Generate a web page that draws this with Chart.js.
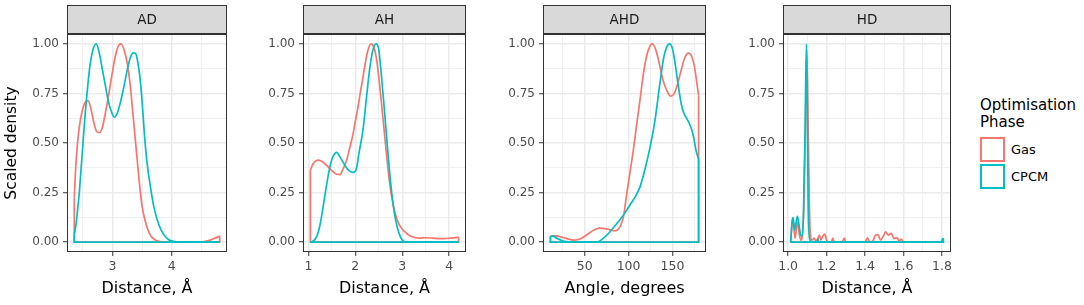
<!DOCTYPE html>
<html>
<head>
<meta charset="utf-8">
<script src="https://cdn.jsdelivr.net/npm/chart.js@4.4.1/dist/chart.umd.min.js"></script>
<style>
html,body{margin:0;padding:0;background:#fff;width:1084px;height:305px;overflow:hidden;font-family:"DejaVu Sans",sans-serif;}
canvas{position:absolute;top:0;}
#legTitle{position:absolute;left:980px;top:97px;font-size:15px;line-height:17px;color:#000;}
.key{position:absolute;left:980px;width:21px;height:21px;border:2px solid;box-sizing:content-box;background:#fff;}
.klab{position:absolute;left:1011px;font-size:13px;line-height:16px;color:#000;}
</style>
</head>
<body>
<canvas id="c0"></canvas>
<canvas id="c1"></canvas>
<canvas id="c2"></canvas>
<canvas id="c3"></canvas>
<div id="legTitle">Optimisation<br>Phase</div>
<div class="key" id="k0" style="top:137px;"></div>
<div class="key" id="k1" style="top:164px;"></div>
<div class="klab" id="l0" style="top:142px;"></div>
<div class="klab" id="l1" style="top:169px;"></div>
<script>
// ---------- data ----------
const panelTitles = ['AD', 'AH', 'AHD', 'HD'];
const xTitles = ['Distance, Å', 'Distance, Å', 'Angle, degrees', 'Distance, Å'];
const yTitle = 'Scaled density';
const seriesNames = ['Gas', 'CPCM'];
const legendTitle = ['Optimisation', 'Phase'];

const adGasX = [2.355, 2.38, 2.41, 2.44, 2.48, 2.53, 2.586, 2.63, 2.68, 2.73, 2.78, 2.83, 2.88, 2.94, 3.0, 3.05, 3.1, 3.146, 3.2, 3.25, 3.3, 3.35, 3.4, 3.45, 3.5, 3.55, 3.583, 3.65, 3.7, 3.8, 3.9, 4.2, 4.45, 4.55, 4.65, 4.73, 4.81];
const adGasY = [0.225, 0.38, 0.5, 0.58, 0.65, 0.70, 0.714, 0.68, 0.61, 0.56, 0.552, 0.58, 0.65, 0.75, 0.86, 0.94, 0.99, 1.0, 0.965, 0.9, 0.79, 0.63, 0.47, 0.31, 0.18, 0.11, 0.074, 0.03, 0.015, 0.002, 0, 0, 0, 0.003, 0.01, 0.02, 0.03];
const adCpcmX = [2.355, 2.38, 2.41, 2.44, 2.47, 2.5, 2.54, 2.58, 2.62, 2.67, 2.726, 2.78, 2.83, 2.88, 2.93, 2.98, 3.03, 3.08, 3.13, 3.19, 3.25, 3.3, 3.35, 3.387, 3.42, 3.46, 3.5, 3.54, 3.58, 3.64, 3.7, 3.78, 3.86, 3.95, 4.05, 4.15, 4.81];
const adCpcmY = [0.04, 0.08, 0.16, 0.25, 0.37, 0.49, 0.65, 0.78, 0.89, 0.97, 1.0, 0.95, 0.87, 0.79, 0.71, 0.66, 0.63, 0.65, 0.7, 0.78, 0.87, 0.93, 0.955, 0.953, 0.92, 0.84, 0.71, 0.54, 0.41, 0.28, 0.175, 0.09, 0.04, 0.012, 0.003, 0, 0];

const ahGasX = [1.043, 1.1, 1.16, 1.218, 1.3, 1.4, 1.5, 1.6, 1.673, 1.74, 1.811, 1.88, 1.951, 2.0, 2.056, 2.11, 2.161, 2.21, 2.266, 2.336, 2.37, 2.406, 2.44, 2.476, 2.51, 2.545, 2.58, 2.615, 2.65, 2.685, 2.72, 2.755, 2.79, 2.825, 2.88, 2.93, 3.0, 3.07, 3.14, 3.21, 3.35, 3.5, 3.65, 3.8, 3.95, 4.1, 4.2];
const ahGasY = [0.364, 0.395, 0.41, 0.414, 0.405, 0.385, 0.36, 0.342, 0.34, 0.37, 0.41, 0.475, 0.545, 0.61, 0.68, 0.76, 0.83, 0.9, 0.966, 1.0, 0.995, 0.975, 0.94, 0.882, 0.81, 0.73, 0.645, 0.562, 0.475, 0.394, 0.32, 0.259, 0.21, 0.167, 0.12, 0.091, 0.065, 0.049, 0.035, 0.027, 0.02, 0.022, 0.02, 0.017, 0.018, 0.021, 0.025];
const ahCpcmX = [1.043, 1.113, 1.17, 1.218, 1.27, 1.323, 1.375, 1.428, 1.48, 1.532, 1.602, 1.67, 1.742, 1.81, 1.88, 1.95, 2.0, 2.04, 2.074, 2.161, 2.231, 2.301, 2.371, 2.441, 2.497, 2.553, 2.615, 2.685, 2.755, 2.825, 2.895, 2.965, 3.035, 3.1, 4.2];
const ahCpcmY = [0, 0.007, 0.025, 0.057, 0.115, 0.192, 0.27, 0.343, 0.4, 0.436, 0.453, 0.43, 0.402, 0.375, 0.358, 0.352, 0.357, 0.39, 0.444, 0.562, 0.714, 0.865, 0.966, 1.0, 0.975, 0.848, 0.68, 0.478, 0.293, 0.158, 0.074, 0.024, 0.003, 0, 0];

const ahdGasX = [11, 15, 20, 28, 38, 46, 55, 61, 67, 73, 79, 84, 86.9, 90.6, 94.4, 98.1, 101.9, 105.6, 109.4, 113.1, 116.9, 120.6, 124.4, 127, 131, 135, 139, 143, 148, 152, 156, 160, 164, 168, 172, 175, 177.5, 179.7];
const ahdGasY = [0.029, 0.033, 0.03, 0.02, 0.01, 0.018, 0.045, 0.062, 0.07, 0.068, 0.062, 0.057, 0.06, 0.08, 0.133, 0.25, 0.36, 0.47, 0.6, 0.72, 0.85, 0.94, 0.99, 1.0, 0.97, 0.9, 0.82, 0.77, 0.736, 0.75, 0.8, 0.87, 0.93, 0.953, 0.935, 0.885, 0.81, 0.74];
const ahdCpcmX = [11, 14, 18, 24, 30, 36, 62, 66, 70, 74, 79.4, 85, 90.6, 96.3, 101.9, 107.5, 113.1, 118.8, 124.4, 130, 135.6, 140.1, 143.5, 146.9, 150, 152.5, 156.3, 160, 163, 166, 169.4, 172, 174, 176.9, 179.7];
const ahdCpcmY = [0.028, 0.03, 0.02, 0.008, 0.002, 0, 0, 0.003, 0.015, 0.03, 0.055, 0.085, 0.115, 0.15, 0.19, 0.228, 0.28, 0.37, 0.478, 0.613, 0.798, 0.933, 0.985, 1.0, 0.975, 0.916, 0.798, 0.697, 0.65, 0.625, 0.596, 0.565, 0.53, 0.461, 0.419];

const hdGasX = [1.013, 1.018, 1.024, 1.03, 1.036, 1.042, 1.05, 1.058, 1.066, 1.074, 1.082, 1.09, 1.097, 1.102, 1.106, 1.112, 1.118, 1.125, 1.135, 1.145, 1.155, 1.163, 1.17, 1.18, 1.19, 1.2, 1.21, 1.225, 1.232, 1.24, 1.28, 1.292, 1.3, 1.4, 1.412, 1.425, 1.44, 1.455, 1.467, 1.48, 1.495, 1.507, 1.52, 1.536, 1.55, 1.567, 1.578, 1.589, 1.6, 1.807];
const hdGasY = [0, 0.06, 0.12, 0.07, 0.02, 0.06, 0.1, 0.04, 0.01, 0.03, 0.2, 0.6, 0.97, 0.75, 0.45, 0.12, 0.02, 0.01, 0.02, 0.005, 0.02, 0.035, 0.01, 0.03, 0.04, 0.01, 0, 0, 0.02, 0, 0, 0.02, 0, 0, 0.022, 0, 0.005, 0.035, 0.038, 0.01, 0.03, 0.052, 0.035, 0.044, 0.018, 0.022, 0.005, 0.015, 0, 0];
const hdCpcmX = [1.013, 1.02, 1.026, 1.033, 1.04, 1.048, 1.056, 1.064, 1.072, 1.08, 1.088, 1.095, 1.1, 1.104, 1.108, 1.114, 1.12, 1.15, 1.155, 1.16, 1.795, 1.802, 1.807];
const hdCpcmY = [0, 0.1, 0.124, 0.06, 0.09, 0.13, 0.09, 0.04, 0.03, 0.15, 0.55, 1.0, 0.6, 0.2, 0.05, 0.01, 0, 0, 0.015, 0, 0, 0.015, 0.02];

const yMajor = [0, 0.25, 0.5, 0.75, 1];
const yMinor = [0.125, 0.375, 0.625, 0.875];
const adXMajor = [3, 4], adXMinor = [2.5, 3.5, 4.5];
const ahXMajor = [1, 2, 3, 4], ahXMinor = [1.5, 2.5, 3.5];
const ahdXMajor = [50, 100, 150], ahdXMinor = [25, 75, 125, 175];
const hdXMajor = [1.0, 1.2, 1.4, 1.6, 1.8], hdXMinor = [1.1, 1.3, 1.5, 1.7];

const seriesColors = ['#F8766D', '#00BFC4'];

// ---------- layout ----------
const FONT = '"DejaVu Sans", sans-serif';
const panelLeft = [67, 303, 543, 783];
const panelRight = [227, 466, 706, 951];
const yAxisW = [67, 50, 50, 50];
const PAD_R = 20, TOP = 34, XAXIS_H = 53, H = 305;

function isIn(v, arr) { return arr.some(m => Math.abs(m - v) < 1e-9); }
function buildTicks(major, minor) {
  return major.concat(minor).sort((a, b) => a - b).map(v => ({value: v}));
}

const panelDeco = {
  id: 'panelDeco',
  afterDraw(chart, args, opts) {
    const {ctx, chartArea: {left, right, top, bottom}} = chart;
    ctx.save();
    ctx.strokeStyle = '#333333';
    ctx.lineWidth = 1;
    ctx.strokeRect(left + 0.5, top + 0.5, right - left - 1, bottom - top - 1);
    ctx.fillStyle = '#D9D9D9';
    ctx.fillRect(left, 5, right - left, top - 5);
    ctx.strokeRect(left + 0.5, 5.5, right - left - 1, top - 6);
    ctx.fillStyle = '#1A1A1A';
    ctx.font = '13.5px ' + FONT;
    ctx.textAlign = 'center';
    ctx.textBaseline = 'middle';
    ctx.fillText(opts.title, (left + right) / 2, (5 + top) / 2 + 1);
    ctx.restore();
  }
};

function seriesDatasets(xs, ys, color) {
  const n = xs.length;
  return [
    {data: xs.map((x, i) => ({x: x, y: ys[i]})), borderColor: color, borderWidth: 1.7,
     pointRadius: 0, fill: false, cubicInterpolationMode: 'monotone'},
    {data: [{x: xs[n - 1], y: ys[n - 1]}, {x: xs[n - 1], y: 0}, {x: xs[0], y: 0}, {x: xs[0], y: ys[0]}],
     borderColor: color, borderWidth: 1.7, pointRadius: 0, fill: false, tension: 0}
  ];
}

function gridOpts(major) {
  return {
    color: '#EBEBEB',
    lineWidth: c => (c.tick && isIn(c.tick.value, major)) ? 1.5 : 0.75,
    tickColor: c => (c.tick && isIn(c.tick.value, major)) ? '#333333' : 'rgba(0,0,0,0)',
    tickLength: 4,
    tickWidth: 1,
    drawTicks: true,
    drawOnChartArea: true
  };
}

function makePanel(i, gasX, gasY, cpcmX, cpcmY, xMajor, xMinor, fmt) {
  const cv = document.getElementById('c' + i);
  const w = yAxisW[i] + (panelRight[i] - panelLeft[i]) + PAD_R;
  cv.width = w; cv.height = H;
  cv.style.left = (panelLeft[i] - yAxisW[i]) + 'px';
  cv.style.width = w + 'px'; cv.style.height = H + 'px';
  const xmin = Math.min(gasX[0], cpcmX[0]);
  const xmax = Math.max(gasX[gasX.length - 1], cpcmX[cpcmX.length - 1]);
  const ex = (xmax - xmin) * 0.05;
  new Chart(cv, {
    type: 'line',
    data: {
      datasets: [
        ...seriesDatasets(cpcmX, cpcmY, seriesColors[1]),
        ...seriesDatasets(gasX, gasY, seriesColors[0])
      ]
    },
    options: {
      responsive: false,
      animation: false,
      devicePixelRatio: 1,
      layout: {padding: {top: TOP, right: PAD_R, left: 0, bottom: 0}},
      plugins: {legend: {display: false}, tooltip: {enabled: false}, panelDeco: {title: panelTitles[i]}},
      scales: {
        x: {
          type: 'linear', min: xmin - ex, max: xmax + ex,
          afterBuildTicks: s => { s.ticks = buildTicks(xMajor, xMinor); },
          afterFit: s => { s.height = XAXIS_H; },
          border: {display: false},
          grid: gridOpts(xMajor),
          ticks: {autoSkip: false, maxRotation: 0, minRotation: 0, padding: 3, color: '#4D4D4D',
                  font: {family: FONT, size: 12.5},
                  callback: v => isIn(v, xMajor) ? fmt(v) : ''},
          title: {display: true, text: xTitles[i], color: '#000000', font: {family: FONT, size: 16},
                  padding: {top: 0, bottom: 7}}
        },
        y: {
          type: 'linear', min: -0.05, max: 1.05,
          afterBuildTicks: s => { s.ticks = buildTicks(yMajor, yMinor); },
          afterFit: s => { s.width = yAxisW[i]; },
          border: {display: false},
          grid: gridOpts(yMajor),
          ticks: {autoSkip: false, padding: 4, color: '#4D4D4D', font: {family: FONT, size: 12},
                  callback: v => isIn(v, yMajor) ? v.toFixed(2) : ''},
          title: {display: i === 0, text: yTitle, color: '#000000', font: {family: FONT, size: 15.5},
                  padding: {top: 3, bottom: 0}}
        }
      }
    },
    plugins: [panelDeco]
  });
}

makePanel(0, adGasX, adGasY, adCpcmX, adCpcmY, adXMajor, adXMinor, v => String(Math.round(v)));
makePanel(1, ahGasX, ahGasY, ahCpcmX, ahCpcmY, ahXMajor, ahXMinor, v => String(Math.round(v)));
makePanel(2, ahdGasX, ahdGasY, ahdCpcmX, ahdCpcmY, ahdXMajor, ahdXMinor, v => String(Math.round(v)));
makePanel(3, hdGasX, hdGasY, hdCpcmX, hdCpcmY, hdXMajor, hdXMinor, v => v.toFixed(1));

// legend
document.getElementById('legTitle').innerHTML = legendTitle.join('<br>');
for (let k = 0; k < 2; k++) {
  document.getElementById('k' + k).style.borderColor = seriesColors[k];
  document.getElementById('l' + k).textContent = seriesNames[k];
}
</script>
</body>
</html>
